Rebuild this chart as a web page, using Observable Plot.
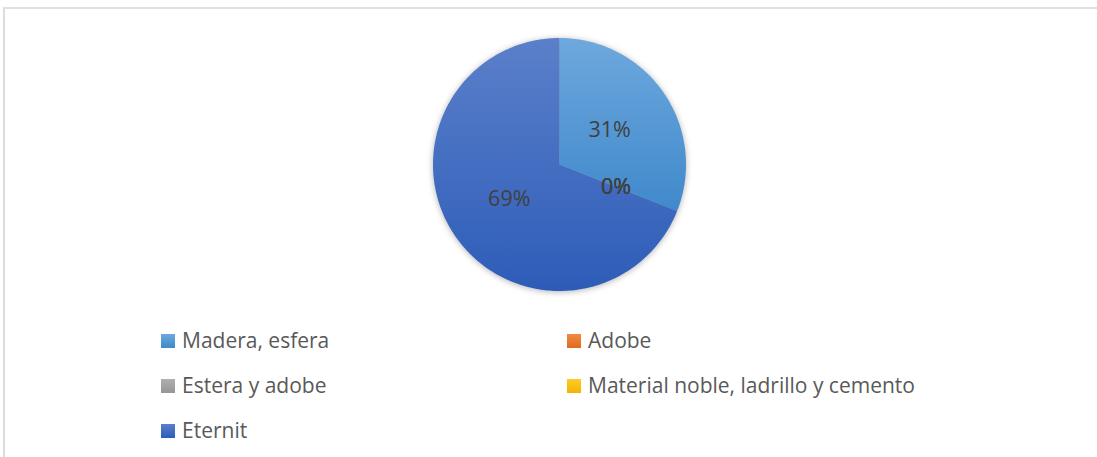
<!DOCTYPE html>
<html><head><meta charset="utf-8">
<script src="https://cdn.jsdelivr.net/npm/d3@7"></script>
<script src="https://cdn.jsdelivr.net/npm/@observablehq/plot@0.6"></script>
<style>
html,body{margin:0;padding:0;background:#fff;}
#wrap{position:relative;width:1097px;height:457px;overflow:hidden;font-family:"Open Sans",sans-serif;}
#frame{position:absolute;left:3px;top:7px;width:1200px;height:600px;border-top:2px solid #e0e0e0;border-left:2px solid #dcdcdc;}
#chart{position:absolute;left:0;top:0;}
.item{position:absolute;height:24px;line-height:24px;font-size:21px;color:#595959;white-space:nowrap;}
.sw{position:absolute;left:0;top:5px;width:14px;height:14px;}
.item span.t{position:absolute;left:21px;top:-1px;}
</style></head>
<body>
<div id="wrap"><div id="frame"></div><div id="chart"></div><div id="legend"></div></div>
<script>
// Data
const categories = ["Madera, esfera", "Adobe", "Estera y adobe", "Material noble, ladrillo y cemento", "Eternit"];
const shares = [31, 0, 0, 0, 69];
const percentLabels = ["31%", "0%", "0%", "0%", "69%"];
const baseColors = ["#5B9BD5", "#ED7D31", "#A5A5A5", "#FFC000", "#4472C4"];
const topColors = ["#6ea8de", "#f28b45", "#b0b0b0", "#ffcb2a", "#5b80ca"];
const bottomColors = ["#3f89cb", "#e06a1c", "#959595", "#f2b400", "#2d5cb8"];

// Pie geometry (angles clockwise from top)
const total = d3.sum(shares);
let acc = 0;
const slices = categories.map((name, i) => {
  const a0 = acc / total * 2 * Math.PI;
  acc += shares[i];
  const a1 = acc / total * 2 * Math.PI;
  return {name, i, a0, a1, label: percentLabels[i]};
});
const polyPoints = [];
for (const s of slices) {
  if (!(s.a1 > s.a0)) continue;
  polyPoints.push({name: s.name, x: 0, y: 0});
  const n = Math.max(2, Math.ceil((s.a1 - s.a0) / (Math.PI / 180)));
  for (let k = 0; k <= n; k++) {
    const a = s.a0 + (s.a1 - s.a0) * k / n;
    polyPoints.push({name: s.name, x: Math.sin(a), y: Math.cos(a)});
  }
}
const labelData = slices.map(s => {
  const m = (s.a0 + s.a1) / 2;
  return {label: s.label, x: 0.48 * Math.sin(m), y: 0.48 * Math.cos(m)};
});

const W = 1097, H = 320;
const plot = Plot.plot({
  width: W, height: H,
  marginLeft: 432.5, marginRight: W - 685.5,
  marginTop: 37.5, marginBottom: H - 290.5,
  x: {domain: [-1, 1], axis: null},
  y: {domain: [-1, 1], axis: null},
  color: {type: "ordinal", domain: categories, range: baseColors},
  style: {fontFamily: "Open Sans, sans-serif", background: "transparent", overflow: "visible"},
  marks: [
    Plot.line(polyPoints, {x: "x", y: "y", z: "name", fill: "name", stroke: "none", curve: "linear-closed"}),
    Plot.text(labelData, {x: "x", y: "y", text: "label", fontSize: 21.5, fill: "#404040"})
  ]
});

// gradients + shadow
const svg = d3.select(plot);
const defs = svg.append("defs");
categories.forEach((_, i) => {
  const g = defs.append("linearGradient").attr("id", `pgrad${i}`).attr("x1", 0).attr("y1", 0).attr("x2", 0).attr("y2", 1);
  g.append("stop").attr("offset", "0%").attr("stop-color", topColors[i]);
  g.append("stop").attr("offset", "100%").attr("stop-color", bottomColors[i]);
});
svg.selectAll("path").each(function() {
  const f = (this.getAttribute("fill") || "").toLowerCase();
  const i = baseColors.findIndex(c => c.toLowerCase() === f);
  if (i >= 0) {
    this.setAttribute("fill", `url(#pgrad${i})`);
    this.parentNode.style.filter = "drop-shadow(0px 1.5px 3px rgba(0,0,0,0.3))";
  }
});
document.getElementById("chart").appendChild(plot);

// legend (2 columns, row-major)
const legend = document.getElementById("legend");
const colX = [161, 567];
const rowY = [329, 374, 419];
categories.forEach((name, i) => {
  const div = document.createElement("div");
  div.className = "item";
  div.style.left = colX[i % 2] + "px";
  div.style.top = rowY[Math.floor(i / 2)] + "px";
  const sw = document.createElement("div");
  sw.className = "sw";
  sw.style.background = `linear-gradient(${topColors[i]}, ${bottomColors[i]})`;
  const t = document.createElement("span");
  t.className = "t";
  t.textContent = name;
  div.appendChild(sw); div.appendChild(t);
  legend.appendChild(div);
});
</script>
</body></html>
